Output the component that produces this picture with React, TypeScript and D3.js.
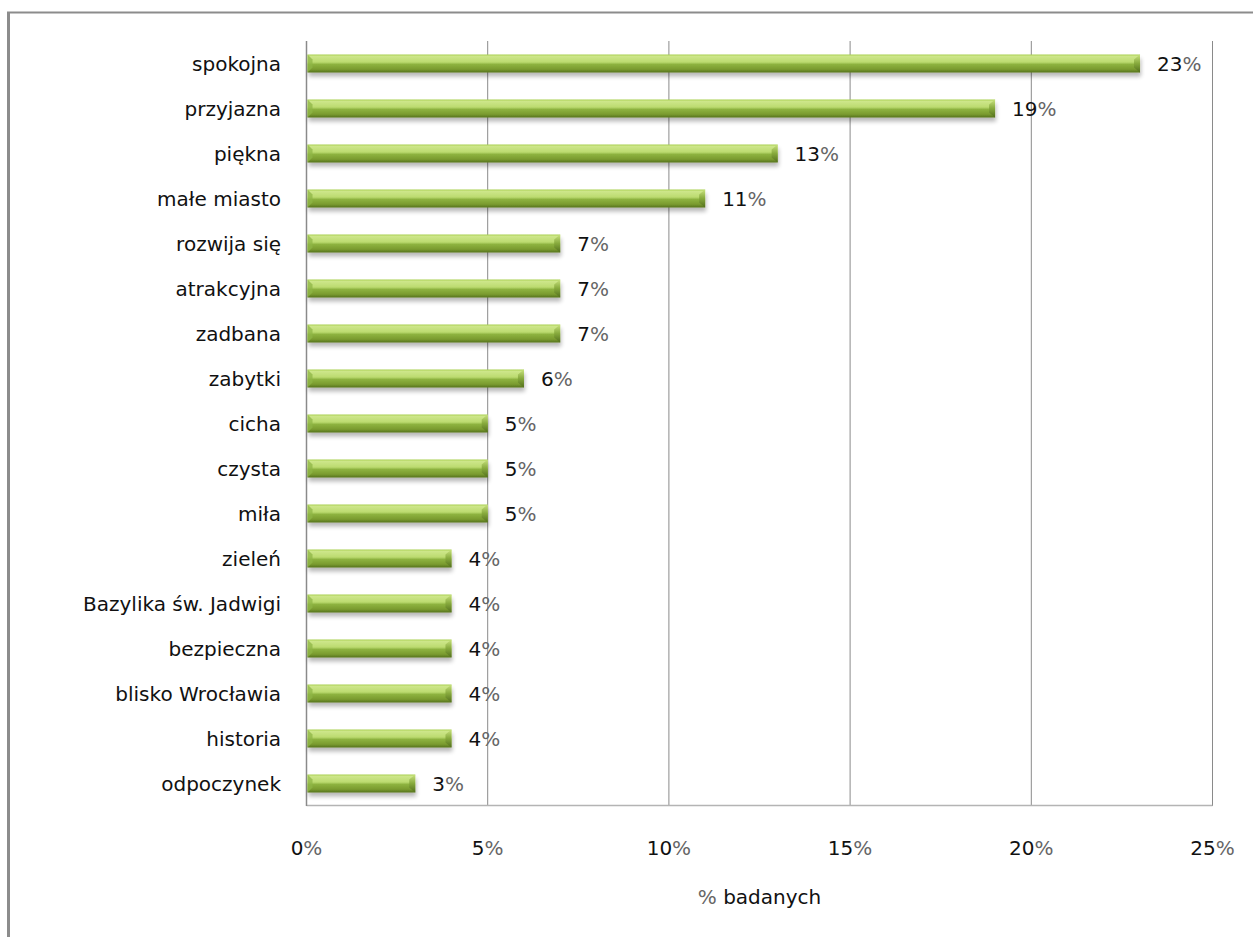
import React from "react";
import * as d3 from "d3";

const categories = [
  "spokojna", "przyjazna", "piękna", "małe miasto", "rozwija się", "atrakcyjna",
  "zadbana", "zabytki", "cicha", "czysta", "miła", "zieleń", "Bazylika św. Jadwigi",
  "bezpieczna", "blisko Wrocławia", "historia", "odpoczynek",
];
const values = [23, 19, 13, 11, 7, 7, 7, 6, 5, 5, 5, 4, 4, 4, 4, 4, 3];
const xTicks = [0, 5, 10, 15, 20, 25];
const axisTitle = "badanych";

const W = 1253;
const H = 937;
const FONT = "'DejaVu Sans', Verdana, sans-serif";

export default function App() {
  const x = d3.scaleLinear().domain([0, 25]).range([306.5, 1212.5]);
  const y = d3.scaleBand<string>().domain(categories).range([41, 806]).paddingInner(0).paddingOuter(0);
  const barH = 18;

  return (
    <svg
      width={W}
      height={H}
      style={{ position: "absolute", left: 0, top: 0, background: "#fff" }}
      fontFamily={FONT}
    >
      <defs>
        <linearGradient id="barG" x1="0" y1="0" x2="0" y2="1">
          <stop offset="0" stopColor="#a9d050" />
          <stop offset="0.1" stopColor="#cde68a" />
          <stop offset="0.42" stopColor="#bcdb70" />
          <stop offset="0.55" stopColor="#8db23f" />
          <stop offset="0.82" stopColor="#7a9b30" />
          <stop offset="1" stopColor="#56731c" />
        </linearGradient>
        <linearGradient id="endG" x1="0" y1="0" x2="0" y2="1">
          <stop offset="0" stopColor="#c9e27f" />
          <stop offset="0.5" stopColor="#86a93c" />
          <stop offset="1" stopColor="#526e1c" />
        </linearGradient>
        <filter id="shadow" x="-5%" y="-50%" width="110%" height="220%">
          <feGaussianBlur in="SourceAlpha" stdDeviation="2.2" />
          <feOffset dx="1" dy="4" result="ob" />
          <feComponentTransfer>
            <feFuncA type="linear" slope="0.28" />
          </feComponentTransfer>
          <feMerge>
            <feMergeNode />
            <feMergeNode in="SourceGraphic" />
          </feMerge>
        </filter>
      </defs>

      {/* outer frame */}
      <line x1={8.5} x2={8.5} y1={12} y2={H} stroke="#8c8c8c" strokeWidth={3} />
      <line x1={7} x2={W} y1={12.5} y2={12.5} stroke="#8c8c8c" strokeWidth={2} />

      {/* gridlines */}
      {xTicks.filter((t) => t > 0).map((t) => (
        <line key={t} x1={x(t)} x2={x(t)} y1={41} y2={806} stroke="#8a8a8a" strokeWidth={1} />
      ))}
      {/* plot bottom border */}
      <line x1={x(0)} x2={x(25)} y1={805.5} y2={805.5} stroke="#b4b4b4" strokeWidth={1.5} />
      {/* left axis */}
      <line x1={x(0)} x2={x(0)} y1={41} y2={806} stroke="#8a8a8a" strokeWidth={1.5} />

      {/* bars */}
      {categories.map((c, i) => {
        const cy = (y(c) as number) + y.bandwidth() / 2;
        const x0 = x(0) + 1;
        const x1 = x(values[i]);
        const top = cy - barH / 2;
        return (
          <g key={c}>
            <g filter="url(#shadow)">
              <rect x={x0} y={top} width={x1 - x0} height={barH} fill="url(#barG)" />
            </g>
            <polygon
              points={`${x0},${top} ${x0 + 5},${top + 5} ${x0 + 5},${top + barH - 5} ${x0},${top + barH}`}
              fill="#8fb545"
              opacity={0.75}
            />
            <polygon
              points={`${x1 - 6},${top + 5} ${x1},${top} ${x1},${top + barH} ${x1 - 6},${top + barH - 5}`}
              fill="url(#endG)"
            />
            <text
              x={x1 + 17}
              y={cy}
              dominantBaseline="central"
              fontSize={20}
              fill="#111"
            >
              {values[i]}
              <tspan fill="#666">%</tspan>
            </text>
            <text
              x={281}
              y={cy}
              textAnchor="end"
              dominantBaseline="central"
              fontSize={20}
              fill="#111"
            >
              {c}
            </text>
          </g>
        );
      })}

      {/* x tick labels */}
      {xTicks.map((t) => (
        <text key={t} x={x(t)} y={848} textAnchor="middle" dominantBaseline="central" fontSize={20} fill="#111">
          {t}
          <tspan fill="#666">%</tspan>
        </text>
      ))}

      {/* axis title */}
      <text x={(x(0) + x(25)) / 2} y={897} textAnchor="middle" dominantBaseline="central" fontSize={20} fill="#111">
        <tspan fill="#666">%</tspan> {axisTitle}
      </text>
    </svg>
  );
}
